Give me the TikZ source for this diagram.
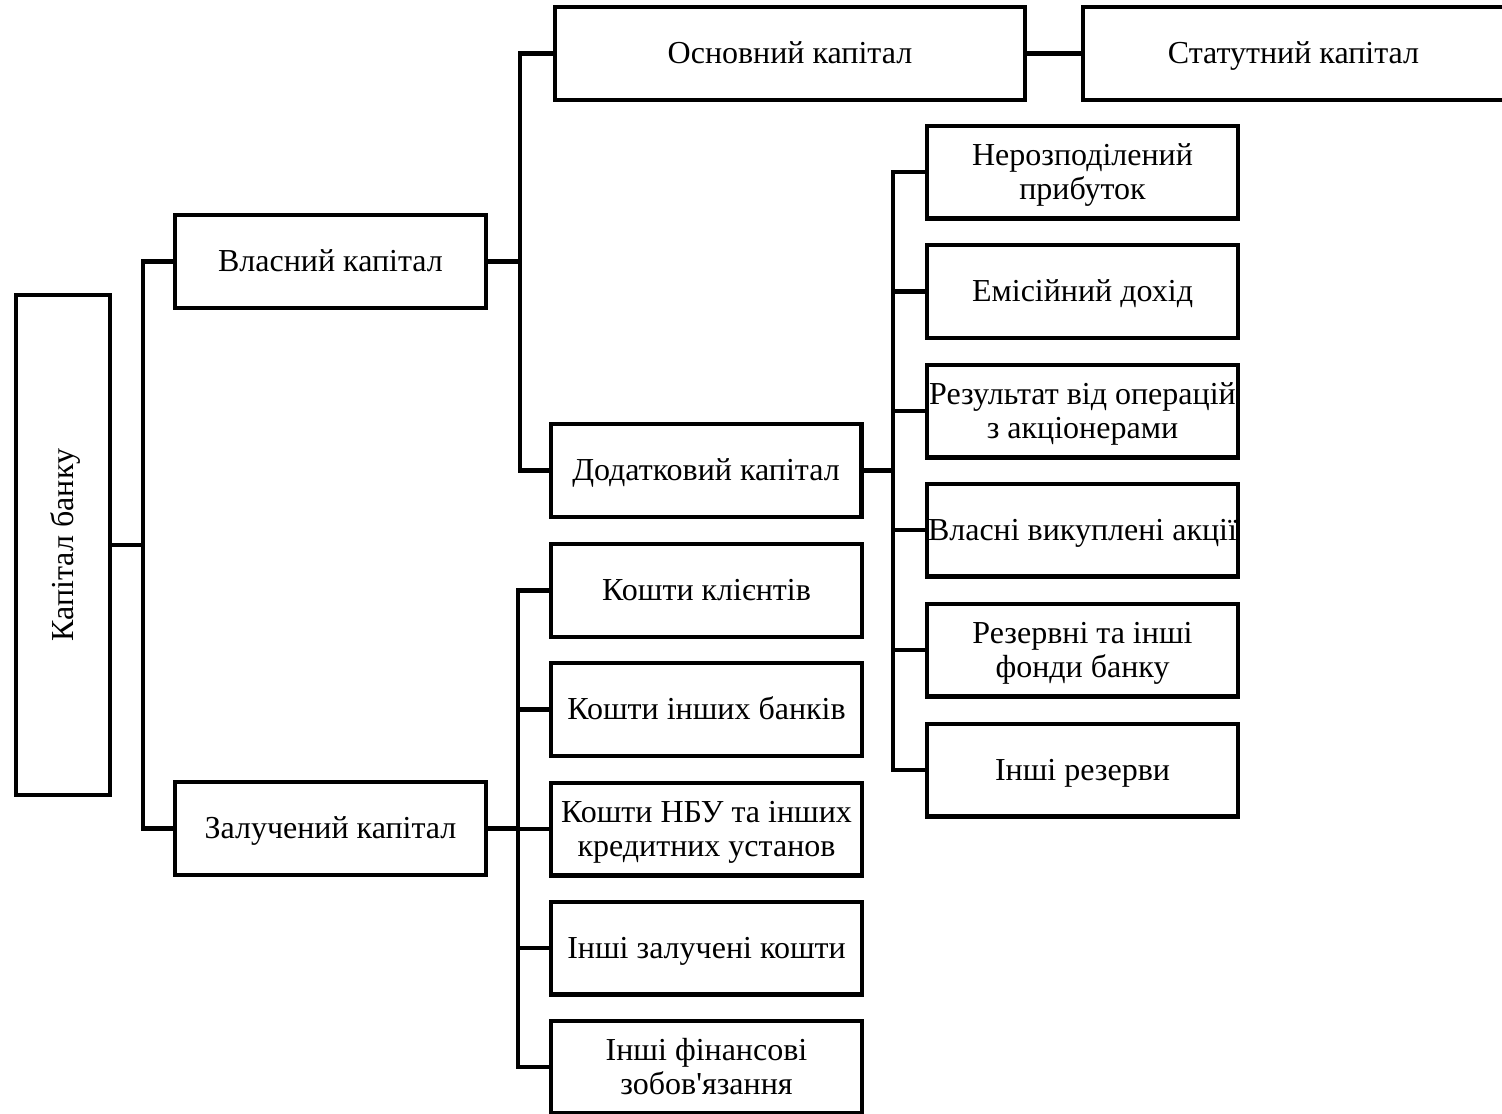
\documentclass[tikz,border=0pt]{standalone}
\usepackage{fontspec}
\setmainfont{Liberation Serif}[Ligatures=TeXOff]
\usepackage{tikz}
\newcommand{\capstrut}{\rule{0pt}{15.5pt}}
\tikzset{
    capbox/.style={draw=black, line width=2.2pt, inner sep=0pt, align=center, minimum width=155.3pt, minimum height=46.3pt, font=\fontsize{16}{16.8}\selectfont, execute at begin node={\capstrut}, execute at end node={\strut}},
    widebox/.style={capbox, minimum width=#1},
    link/.style={draw=black, line width=2.2pt}
}
\begin{document}
\begin{tikzpicture}[x=0.5pt,y=-0.5pt]
            \useasboundingbox (0,0) rectangle (1502,1113);
            \node[capbox, rotate=90, minimum width=249.8pt, minimum height=46.8pt] (kapital) at (63,545) {Капітал банку};
            \node[capbox] (vlasnyi) at (330.5,261.5) {Власний капітал};
            \node[capbox] (zaluch) at (330.5,828.5) {Залучений капітал};
            \node[widebox=234.8pt] (osnovnyi) at (790,53.5) {Основний капітал};
            \node[widebox=210.3pt] (statutnyi) at (1293.5,53.5) {Статутний капітал};
            \node[capbox] (dodatk) at (706,470.5) {Додатковий капітал};
            \coordinate (j1) at (143,545);
            \coordinate (j2) at (520,261.5);
            \coordinate (j3) at (893,470.5);
            \coordinate (j4) at (518,828.5);
            \draw[link] (kapital.south) -- (j1);
            \draw[link] (vlasnyi.west) -| (j1);
            \draw[link] (zaluch.west) -| (j1);
            \draw[link] (vlasnyi.east) -- (j2);
            \draw[link] (osnovnyi.west) -| (j2);
            \draw[link] (dodatk.west) -| (j2);
            \draw[link] (osnovnyi.east) -- (statutnyi.west);
            \draw[link] (dodatk.east) -- (j3);
            \draw[link] (zaluch.east) -- (j4);
            \foreach \name/\yy/\txt in {nerozp/172/{\capstrut Нерозподілений\\прибуток}, emis/291.5/{Емісійний дохід}, rezult/411/{\capstrut Результат від операцій\\з акціонерами}, vykup/530/{Власні викуплені акції}, rezerv/650/{\capstrut Резервні та інші\\фонди банку}, inshrez/770/{Інші резерви}}{
                \node[capbox] (\name) at (1082.5,\yy) {\txt};
                \draw[link] (\name.west) -| (j3);
            }
            \foreach \name/\yy/\txt in {klient/590.5/{Кошти клієнтів}, banky/709.5/{Кошти інших банків}, nbu/829/{\capstrut Кошти НБУ та інших\\кредитних установ}, inshzal/948/{Інші залучені кошти}, inshfin/1067/{\capstrut Інші фінансові\\зобов'язання}}{
                \node[capbox] (\name) at (706.5,\yy) {\txt};
                \draw[link] (\name.west) -| (j4);
            }
        \end{tikzpicture}
\end{document}
